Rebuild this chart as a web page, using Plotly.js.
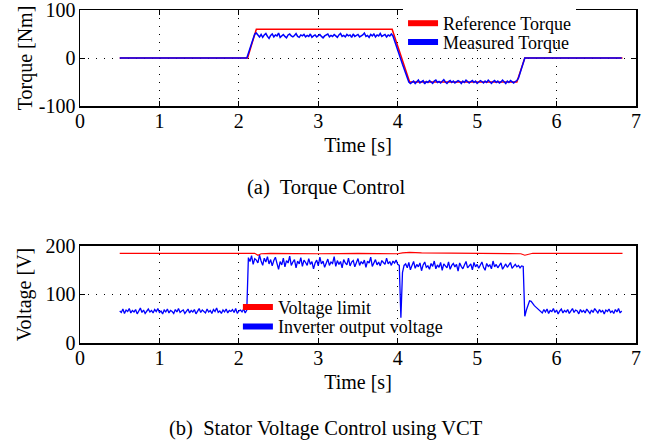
<!DOCTYPE html>
<html>
<head>
<meta charset="utf-8">
<script src="https://cdn.plot.ly/plotly-3.0.1.min.js"></script>
<style>html,body{margin:0;padding:0;background:#fff;}#chart{width:651px;height:445px;}</style>
</head>
<body>
<div id="chart"></div>
<script>
// ---------------- DATA ----------------
// Sampling grid of the measured signals (s)
var sampleStart = 0.5;
var sampleStep = 0.02;

// Reference torque (Nm) breakpoints
var refTorqueTime = [0.50, 2.11, 2.22, 3.93, 4.15, 5.50, 5.60, 6.83];
var refTorqueValue = [0, 0, 60, 60, -50, -50, 0, 0];

// Measured torque (Nm), one value per sample from 0.50 s to 6.82 s
var measuredTorque = [
  0,0,0,0,0,0,0,0,0,0, 0,0,0,0,0,0,0,0,0,0, 0,0,0,0,0,0,0,0,0,0, 0,0,0,0,0,0,0,0,0,0,
  0,0,0,0,0,0,0,0,0,0, 0,0,0,0,0,0,0,0,0,0, 0,0,0,0,0,0,0,0,0,0, 0,0,0,0,0,0,0,0,0,0,
  0,
  10,21,32,42,50,52,
  47,44,49,43,48,51,45,41,47,50,
  44,48,46,52,43,47,49,45,42,48,
  50,46,44,47,51,45,43,48,46,49,
  44,47,45,50,43,46,48,44,47,49,
  45,42,46,48,50,44,47,45,49,46,
  43,48,51,45,47,44,49,46,48,43,
  50,45,47,49,44,46,48,52,45,47,
  43,49,46,50,44,48,46,51,45,47,
  49,44,48,46,50,
  46,37,27,17,7,-3,-13,-23,-33,-42,-50,-53,
  -51,-48,-53,-49,-46,-52,-50,-47,-54,-49,
  -51,-47,-50,-53,-48,-46,-51,-49,-52,-48,
  -45,-50,-53,-49,-47,-51,-48,-52,-50,-47,
  -49,-53,-48,-51,-46,-50,-52,-49,-47,-51,
  -48,-53,-50,-47,-49,-52,-48,-51,-46,-50,
  -53,-49,-47,-51,-48,-52,-50,-46,-49,-53,
  -48,-51,-47,-50,-52,-49,-47,
  -42,-31,-20,-10,0,
  0,0,0,0,0,0,0,0,0,0, 0,0,0,0,0,0,0,0,0,0, 0,0,0,0,0,0,0,0,0,0,
  0,0,0,0,0,0,0,0,0,0, 0,0,0,0,0,0,0,0,0,0, 0,0,0,0,0,0,0,0,0,0, 0
];

// Voltage limit (V) breakpoints
var limitTime = [0.50, 2.20, 2.24, 2.28, 2.40, 3.00, 3.50, 4.00, 4.06, 4.15, 4.30, 5.00, 5.55, 5.60, 5.64, 5.70, 6.00, 6.83];
var limitValue = [185, 185, 181, 184, 185, 184, 185, 184, 186, 187, 186, 185, 184, 181, 183, 185, 185, 185];

// Inverter output voltage (V), one value per sample from 0.50 s to 6.82 s
var inverterVoltage = [
  66,63,70,61,68,65,71,62,67,64, 69,60,66,72,63,68,61,65,70,64, 67,62,69,65,71,63,66,60,68,64,
  70,62,67,65,61,69,64,71,63,66, 68,61,65,70,62,67,64,69,60,66, 71,63,68,65,62,70,64,67,61,69,
  65,72,63,66,61,68,64,70,62,67, 65,69,63,71,61,66,68,64,70,62, 68,
  176,168,180,162,174,171,165,181,169,160, 175,167,178,163,172,159,170,177,164,152,
  168,161,175,157,170,165,179,160,167,172, 155,169,163,176,158,171,166,160,174,162,
  168,153,165,171,159,177,163,169,156,166, 173,160,167,164,178,158,170,162,168,155,
  172,165,161,175,159,167,170,157,166,174, 160,168,163,171,156,169,165,177,158,164,
  172,161,167,159,170,166,162,175,163,168, 160,169,165,171,162,
  160,52,145,160,
  163,155,166,151,160,168,154,162,157,165, 149,161,167,156,159,152,164,158,169,153,
  161,156,166,150,163,159,155,167,152,160, 164,157,162,148,165,158,153,161,168,155,
  159,163,151,166,157,162,154,160,167,156, 150,164,158,161,153,169,157,162,155,160,
  165,152,159,163,156,161,166,154,158,162, 157,160,155,159,
  158,55,68,80,87,86,81,77,74,71,69,
  66,62,69,64,70,61,67,65,71,63, 68,60,66,70,62,67,64,69,61,65, 71,63,68,66,60,69,64,67,62,70,
  65,61,68,63,71,66,62,69,64,67, 60,68,65,70,63,66,61,69,64,71, 62,66
];

// Axis ticks and texts
var xTickVals = [0, 1, 2, 3, 4, 5, 6, 7];
var torqueTickVals = [-100, 0, 100];
var torqueTickText = ['-100', '0', '100'];
var voltageTickVals = [0, 100, 200];
var voltageTickText = ['0', '100', '200'];
var seriesNames = ['Reference Torque', 'Measured Torque', 'Voltage limit', 'Inverter output voltage'];
var captions = ['(a)  Torque Control', '(b)  Stator Voltage Control using VCT'];

// ---------------- BUILD ----------------
function sampleTimes(n) {
  var t = [];
  for (var i = 0; i < n; i++) t.push(+(sampleStart + i * sampleStep).toFixed(4));
  return t;
}
var tTorque = sampleTimes(measuredTorque.length);
var tVoltage = sampleTimes(inverterVoltage.length);

var FONT = 'Liberation Serif, Times New Roman, serif';
var RED = '#ff0000', BLUE = '#0000ff';
var TICK = 20, TITLE = 20, LEG = 18, CAP = 20.5;

var traces = [
  {x: refTorqueTime, y: refTorqueValue, type: 'scatter', mode: 'lines', xaxis: 'x', yaxis: 'y',
   line: {color: RED, width: 1.5}, showlegend: false, name: seriesNames[0]},
  {x: tTorque, y: measuredTorque, type: 'scatter', mode: 'lines', xaxis: 'x', yaxis: 'y',
   line: {color: BLUE, width: 1.5}, showlegend: false, name: seriesNames[1]},
  {x: limitTime, y: limitValue, type: 'scatter', mode: 'lines', xaxis: 'x2', yaxis: 'y2',
   line: {color: RED, width: 1.2}, showlegend: false, name: seriesNames[2]},
  {x: tVoltage, y: inverterVoltage, type: 'scatter', mode: 'lines', xaxis: 'x2', yaxis: 'y2',
   line: {color: BLUE, width: 1.3}, showlegend: false, name: seriesNames[3]},
  // legend entries (thick swatches)
  {x: [null], y: [null], type: 'scatter', mode: 'lines', xaxis: 'x', yaxis: 'y', name: seriesNames[0],
   line: {color: RED, width: 6}, legend: 'legend'},
  {x: [null], y: [null], type: 'scatter', mode: 'lines', xaxis: 'x', yaxis: 'y', name: seriesNames[1],
   line: {color: BLUE, width: 6}, legend: 'legend2'},
  {x: [null], y: [null], type: 'scatter', mode: 'lines', xaxis: 'x2', yaxis: 'y2', name: seriesNames[2],
   line: {color: RED, width: 6}, legend: 'legend3'},
  {x: [null], y: [null], type: 'scatter', mode: 'lines', xaxis: 'x2', yaxis: 'y2', name: seriesNames[3],
   line: {color: BLUE, width: 6}, legend: 'legend4'}
];

function xAxis(anchor, title) {
  return {anchor: anchor, domain: [0, 1], range: [0, 7], tickvals: xTickVals, automargin: false,
    ticks: 'inside', ticklen: 5, tickwidth: 1, tickcolor: '#000', ticklabelstandoff: -4,
    ticklabeloverflow: 'allow',
    showline: true, linecolor: '#000', linewidth: 1.5, mirror: 'ticks',
    showgrid: true, gridcolor: '#000', gridwidth: 1, griddash: '1px,7px',
    zeroline: false, tickfont: {family: FONT, size: TICK, color: '#000'},
    title: {text: title, font: {family: FONT, size: TITLE, color: '#000'}, standoff: 7}};
}
function yAxis(anchor, domain, range, vals, text, title, standoff) {
  return {anchor: anchor, domain: domain, range: range, tickvals: vals, ticktext: text, automargin: false,
    ticks: 'inside', ticklen: 5, tickwidth: 1, tickcolor: '#000', ticklabelstandoff: -1,
    ticklabeloverflow: 'allow',
    showline: true, linecolor: '#000', linewidth: 1.5, mirror: 'ticks',
    showgrid: true, gridcolor: '#000', gridwidth: 1, griddash: '1px,7px',
    zeroline: false, tickfont: {family: FONT, size: TICK, color: '#000'},
    title: {text: title, font: {family: FONT, size: TITLE, color: '#000'}, standoff: standoff}};
}
function legendBox(x, y, anchor, bg) {
  return {x: x, y: y, xref: 'paper', yref: 'paper', xanchor: 'left', yanchor: anchor, bgcolor: bg, borderwidth: 0,
          font: {family: FONT, size: LEG, color: '#000'}};
}

var layout = {
  width: 651, height: 445,
  margin: {l: 80, r: 15, t: 10, b: 102, autoexpand: false},
  paper_bgcolor: '#fff', plot_bgcolor: '#fff',
  font: {family: FONT, size: TICK, color: '#000'},
  xaxis: xAxis('y', 'Time [s]'),
  yaxis: yAxis('x', [0.7117, 1], [-100, 100], torqueTickVals, torqueTickText, 'Torque [Nm]', 1),
  xaxis2: xAxis('y2', 'Time [s]'),
  yaxis2: yAxis('x2', [0, 0.2913], [0, 200], voltageTickVals, voltageTickText, 'Voltage [V]', 8),
  legend: legendBox(0.581, 1.015, 'top', '#fff'),
  legend2: legendBox(0.581, 0.903, 'middle', 'rgba(0,0,0,0)'),
  legend3: legendBox(0.284, 0.107, 'middle', 'rgba(0,0,0,0)'),
  legend4: legendBox(0.284, 0.049, 'middle', 'rgba(0,0,0,0)'),
  annotations: [
    {text: captions[0], xref: 'paper', yref: 'paper', x: 0.4416, y: 0.4655, xanchor: 'center', yanchor: 'middle',
     showarrow: false, font: {family: FONT, size: CAP, color: '#000'}},
    {text: captions[1], xref: 'paper', yref: 'paper', x: 0.4416, y: -0.258, xanchor: 'center', yanchor: 'middle',
     showarrow: false, font: {family: FONT, size: CAP, color: '#000'}}
  ]
};

Plotly.newPlot('chart', traces, layout, {displayModeBar: false, staticPlot: true});
</script>
</body>
</html>
